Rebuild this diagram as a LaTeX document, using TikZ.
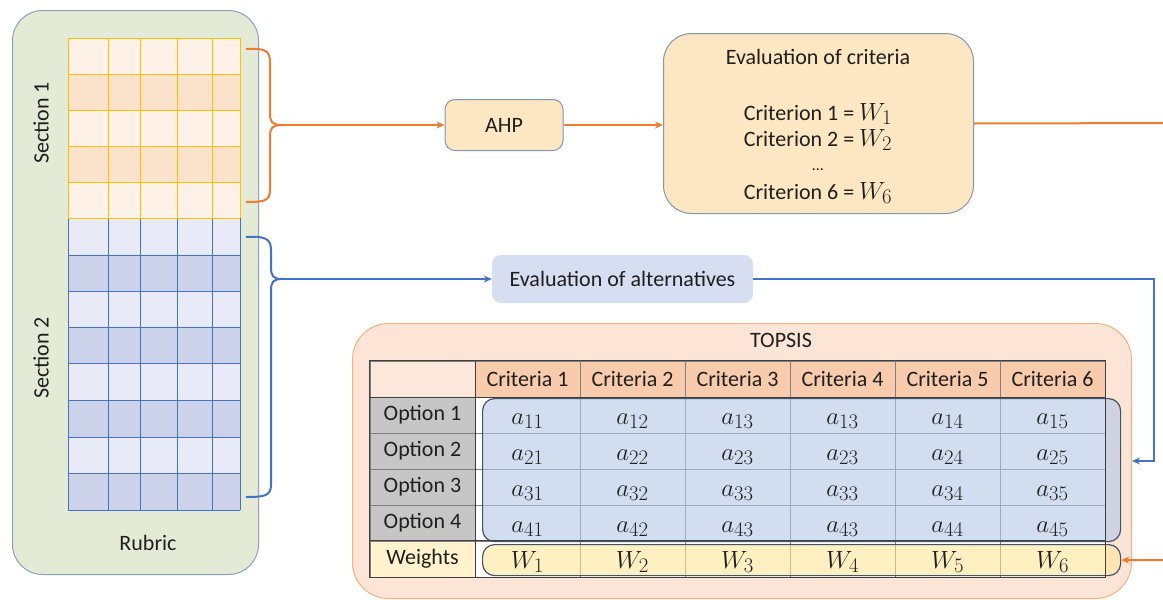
\documentclass[tikz,border=0pt]{standalone}
\usepackage{fontspec}
\setmainfont{Carlito}
\usetikzlibrary{arrows.meta,calc}
\DeclareMathSizes{27}{27}{20}{15}
\definecolor{rubricfill}{HTML}{E3EBD7}
\definecolor{rubricdraw}{HTML}{8EA0B8}
\definecolor{sAlight}{HTML}{FDF1E8}
\definecolor{sAdark}{HTML}{FBE2CB}
\definecolor{sAline}{HTML}{FFC000}
\definecolor{sBlight}{HTML}{E8EBF7}
\definecolor{sBdark}{HTML}{CBD2EA}
\definecolor{sBline}{HTML}{4472C4}
\definecolor{boxfill}{HTML}{FCE7C2}
\definecolor{boxdraw}{HTML}{8497B0}
\definecolor{altfill}{HTML}{D8DEF1}
\definecolor{topsisfill}{HTML}{FCE4D6}
\definecolor{topsisdraw}{HTML}{F4B183}
\definecolor{critfill}{HTML}{F8CBAD}
\definecolor{optfill}{HTML}{C6C6C6}
\definecolor{topleft}{HTML}{FCE8DA}
\definecolor{wlabel}{HTML}{FFF2CC}
\definecolor{orangeline}{HTML}{ED7D31}
\definecolor{gridgray}{HTML}{7F7F7F}
\definecolor{darkline}{HTML}{3F3F3F}
\definecolor{ovdraw}{HTML}{44546A}
\definecolor{bluefill}{HTML}{B4C7E7}
\definecolor{yelfill}{HTML}{FFE699}
\definecolor{txt}{HTML}{1F1F1F}
\newcommand{\bigmath}[1]{{\fontsize{27}{28}\selectfont$#1$}}
\begin{document}
\begin{tikzpicture}[x=1pt,y=-1pt,
  font=\fontsize{22}{26}\selectfont, text=txt,
  flowbox/.style={draw=boxdraw, line width=1pt, fill=boxfill, rounded corners=#1, inner sep=0pt},
  cell/.style={draw=gridgray, line width=0.8pt, minimum width=105pt, minimum height=36pt, inner sep=0pt},
  orangeconn/.style={draw=orangeline, line width=2pt},
  blueconn/.style={draw=sBline, line width=2pt},
  tip/.style={-{Stealth[length=8pt,width=7pt]}},
  overlay box/.style={draw=ovdraw, line width=1.2pt, rounded corners=12pt, fill opacity=0.6, inner sep=0pt, anchor=north west},
  crittext/.style={inner sep=0pt}
]
\useasboundingbox (0,0) rectangle (1163,600);

% ---------- Rubric ----------
\node[draw=rubricdraw, line width=1pt, fill=rubricfill, rounded corners=30pt,
      minimum width=246pt, minimum height=564pt, anchor=north west, inner sep=0pt] (rubric) at (12,10) {};
\node (rubriclbl) at (148,543) {Rubric};
\node[rotate=90] (sec1) at (41,123) {Section 1};
\node[rotate=90] (sec2) at (41,358) {Section 2};

% section 2 grid
\foreach \ya/\yb/\c in {218/255/sBlight,255/291/sBdark,291/327/sBlight,327/363/sBdark,363/400/sBlight,400/437/sBdark,437/473/sBlight,473/510/sBdark}
  \fill[\c] (68,\ya) rectangle (240,\yb);
\foreach \x in {68,108,140,177,212,240}
  \draw[sBline, line width=1pt] (\x,218) -- (\x,510);
\foreach \y in {255,291,327,363,400,437,473,510}
  \draw[sBline, line width=1pt] (68,\y) -- (240,\y);
% section 1 grid
\foreach \ya/\yb/\c in {38/74/sAlight,74/110/sAdark,110/146/sAlight,146/182/sAdark,182/218/sAlight}
  \fill[\c] (68,\ya) rectangle (240,\yb);
\foreach \x in {68,108,140,177,212,240}
  \draw[sAline, line width=1pt] (\x,38) -- (\x,218);
\foreach \y in {38,74,110,146,182,218}
  \draw[sAline, line width=1pt] (68,\y) -- (240,\y);

% braces
\coordinate (otip) at (282,125);
\coordinate (btip) at (282,279);
\draw[orangeconn] (246,49) .. controls (264,48) and (270,50) .. (270,62) -- (270,113)
   .. controls (270,122) and (272,125) .. (otip)
   .. controls (272,125) and (270,128) .. (270,137) -- (270,190)
   .. controls (270,201) and (264,202) .. (246,202);
\draw[blueconn] (246,237) .. controls (264,236) and (271,238) .. (271,250) -- (271,267)
   .. controls (271,276) and (273,279) .. (btip)
   .. controls (273,279) and (271,282) .. (271,291) -- (271,485)
   .. controls (271,496) and (264,497) .. (246,497);

% ---------- top flow ----------
\node[flowbox=10pt, minimum width=118pt, minimum height=51pt] (ahp) at (504,125) {AHP};
\node[flowbox=28pt, minimum width=310pt, minimum height=180pt, anchor=north west] (crit) at (663,33) {};
\node[crittext] (critT) at (818,57) {Evaluation of criteria};
\node[crittext, anchor=base] (crit1) at (818,120) {Criterion 1 = \bigmath{W_1}};
\node[crittext, anchor=base] (crit2) at (818,146) {Criterion 2 = \bigmath{W_2}};
\node[crittext, anchor=base] (critd) at (818,170) {\fontsize{16}{16}\selectfont\textellipsis};
\node[crittext, anchor=base] (crit6) at (818,199) {Criterion 6 = \bigmath{W_6}};

\node[fill=altfill, rounded corners=9pt, minimum width=261pt, minimum height=48pt, inner sep=0pt] (alt) at (622.5,279) {Evaluation of alternatives};

% ---------- TOPSIS ----------
\node[draw=topsisdraw, line width=1pt, fill=topsisfill, rounded corners=36pt,
      minimum width=779pt, minimum height=275pt, anchor=north west, inner sep=0pt] (topsis) at (352,323) {};
\node (topsisT) at (781,340) {TOPSIS};

\node[cell, fill=topleft] (h0) at (422.5,379) {};
\foreach \j in {1,...,6}
  \node[cell, fill=critfill] (h\j) at ({475+105*(\j-0.5)},379) {Criteria \j};
\foreach \r/\yy in {1/415,2/451,3/487,4/523} {
  \node[cell, fill=optfill] (o\r) at (422.5,\yy) {Option \r};
  \foreach \j in {1,...,6}
    \node[cell, fill=white] (d\r-\j) at ({475+105*(\j-0.5)},\yy) {};
}
\node[cell, fill=wlabel] (wl) at (422.5,559) {Weights};
\foreach \j in {1,...,6}
  \node[cell, fill=white] (w\j) at ({475+105*(\j-0.5)},559) {};

% overlays
\node[overlay box, fill=bluefill, minimum width=638pt, minimum height=143pt] (bov) at (482,398) {};
\node[overlay box, fill=yelfill, minimum width=638pt, minimum height=31pt] (wov) at (482,544) {};

% dark table lines
\draw[darkline, line width=1.6pt] (h0.north west) rectangle (w6.south east);
\draw[darkline, line width=1.6pt] (h0.south west) -- (h6.south east);
\draw[darkline, line width=1.6pt] (wl.north west) -- (w6.north east);
\draw[darkline, line width=1.6pt] (h0.north east) -- (wl.south east);

% cell texts
\foreach \r/\yy in {1/415,2/451,3/487,4/523}
  \foreach \k [count=\j] in {1,2,3,3,4,5}
    \node[inner sep=0pt, anchor=base] (t\r-\j) at ($(d\r-\j.center)+(0,9)$) {\bigmath{a_{\r\k}}};
\foreach \j in {1,...,6}
  \node[inner sep=0pt, anchor=base] (tw\j) at ($(w\j.center)+(0,9)$) {\bigmath{W_{\j}}};

% ---------- connectors ----------
\draw[orangeconn, tip] (otip) -- (ahp.west);
\draw[orangeconn, tip] (ahp.east) -- (crit.west |- ahp.east);
\coordinate (oc1) at (1185,123);
\draw[orangeconn, tip] (crit.east) -- (oc1) |- (wov.east);
\draw[blueconn, tip] (btip) -- (alt.west);
\coordinate (bc1) at (1154,279);
\draw[blueconn, tip] (alt.east) -- (bc1) |- (topsis.east);
\end{tikzpicture}
\end{document}
